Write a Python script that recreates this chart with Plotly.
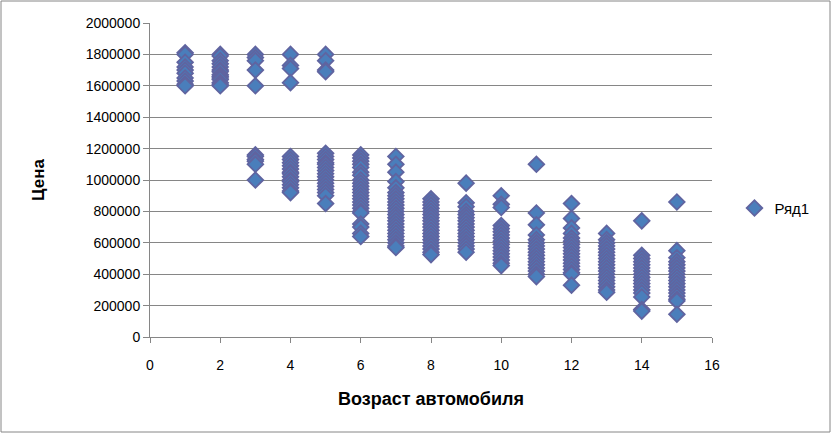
import plotly.graph_objs as go

age_1 = [1810000, 1800000, 1750000, 1720000, 1700000, 1680000, 1650000, 1630000, 1610000, 1600000]
age_2 = [1800000, 1790000, 1760000, 1740000, 1720000, 1700000, 1690000, 1670000, 1660000,
         1650000, 1640000, 1620000, 1610000, 1600000]
age_3 = [1800000, 1780000, 1760000, 1700000, 1600000, 1160000, 1150000, 1130000, 1120000,
         1100000, 1000000]
age_4 = [1800000, 1730000, 1710000, 1620000, 1150000, 1130000, 1110000, 1090000, 1070000,
         1050000, 1040000, 1020000, 1000000, 990000, 970000, 950000, 930000, 920000]
age_5 = [1800000, 1760000, 1700000, 1690000, 1170000, 1150000, 1130000, 1110000, 1100000,
         1080000, 1060000, 1040000, 1020000, 1000000, 980000, 960000, 940000, 920000, 900000,
         850000]
age_6 = [1160000, 1140000, 1120000, 1100000, 1080000, 1050000, 1030000, 1000000, 980000,
         960000, 940000, 920000, 900000, 880000, 860000, 840000, 820000, 800000, 790000,
         720000, 700000, 660000, 640000]
age_7 = [1150000, 1100000, 1050000, 990000, 950000, 920000, 900000, 880000, 860000, 840000,
         820000, 800000, 780000, 760000, 740000, 720000, 700000, 680000, 660000, 640000,
         620000, 600000, 580000, 570000]
age_8 = [880000, 860000, 840000, 820000, 800000, 780000, 760000, 740000, 720000, 700000,
         680000, 660000, 640000, 620000, 600000, 580000, 560000, 540000, 525000]
age_9 = [980000, 855000, 830000, 800000, 780000, 760000, 740000, 720000, 700000, 680000,
         660000, 640000, 620000, 600000, 580000, 560000, 540000]
age_10 = [900000, 845000, 825000, 710000, 690000, 670000, 650000, 630000, 610000, 590000,
          570000, 550000, 530000, 510000, 490000, 470000, 455000]
age_11 = [1100000, 790000, 715000, 650000, 620000, 600000, 580000, 560000, 540000, 520000,
          500000, 480000, 460000, 440000, 420000, 400000, 385000]
age_12 = [850000, 755000, 695000, 660000, 630000, 610000, 590000, 570000, 550000, 530000,
          510000, 490000, 470000, 450000, 430000, 410000, 400000, 330000]
age_13 = [660000, 620000, 600000, 580000, 560000, 540000, 520000, 500000, 480000, 460000,
          440000, 420000, 400000, 380000, 360000, 340000, 320000, 300000, 285000]
age_14 = [740000, 520000, 500000, 480000, 460000, 440000, 420000, 400000, 380000, 360000,
          340000, 320000, 300000, 280000, 255000, 175000, 165000]
age_15 = [860000, 550000, 505000, 480000, 460000, 440000, 420000, 400000, 380000, 360000,
          340000, 320000, 300000, 280000, 260000, 240000, 230000, 145000]

prices_by_age = {
    1: age_1, 2: age_2, 3: age_3, 4: age_4, 5: age_5, 6: age_6, 7: age_7, 8: age_8,
    9: age_9, 10: age_10, 11: age_11, 12: age_12, 13: age_13, 14: age_14, 15: age_15,
}

x_ticks = [0, 2, 4, 6, 8, 10, 12, 14, 16]
y_ticks = [0, 200000, 400000, 600000, 800000, 1000000, 1200000, 1400000, 1600000, 1800000, 2000000]

ages = []
prices = []
for age, vals in prices_by_age.items():
    for v in vals:
        ages.append(age)
        prices.append(v)

fig = go.Figure(data=[go.Scatter(
    x=ages,
    y=prices,
    mode='markers',
    name='Ряд1',
    marker=dict(symbol='diamond', size=12, color='#4A7EBB',
                line=dict(color='#6064A0', width=1.8)),
)])

grid = '#868686'
tick_font = dict(family='Liberation Sans, Arial, sans-serif', size=14, color='black')
fig.update_layout(
    width=832, height=434,
    margin=dict(l=150, r=120, t=23, b=97),
    paper_bgcolor='white',
    plot_bgcolor='white',
    font=dict(family='Liberation Sans, Arial, sans-serif', size=14, color='black'),
    showlegend=True,
    legend=dict(x=1.04, xanchor='left', y=0.41, yanchor='middle',
                font=dict(size=15), bgcolor='rgba(0,0,0,0)'),
    xaxis=dict(
        range=[0, 16], tickvals=x_ticks, showgrid=False, zeroline=False,
        showline=True, linecolor=grid, ticks='outside', ticklen=5, tickcolor=grid,
        tickfont=tick_font, ticklabelstandoff=10,
        title=dict(text='<b>Возраст автомобиля</b>', font=dict(size=18), standoff=20),
    ),
    yaxis=dict(
        range=[0, 2000000], tickvals=y_ticks, tickformat='d', showgrid=True,
        gridcolor=grid, zeroline=False, showline=True, linecolor=grid,
        ticks='outside', ticklen=6, tickcolor=grid, tickfont=tick_font,
        title=dict(text='<b>Цена</b>', font=dict(size=17), standoff=36),
    ),
    # outer chart border
    shapes=[dict(type='rect', xref='paper', yref='paper',
                 x0=(1 - 150) / 562, x1=(830 - 150) / 562,
                 y0=(337 - 432) / 314, y1=(337 - 1) / 314,
                 line=dict(color='#868686', width=1))],
)

fig.write_html("out.html", config={'displayModeBar': False},
               post_script="document.body.style.margin='0';")
